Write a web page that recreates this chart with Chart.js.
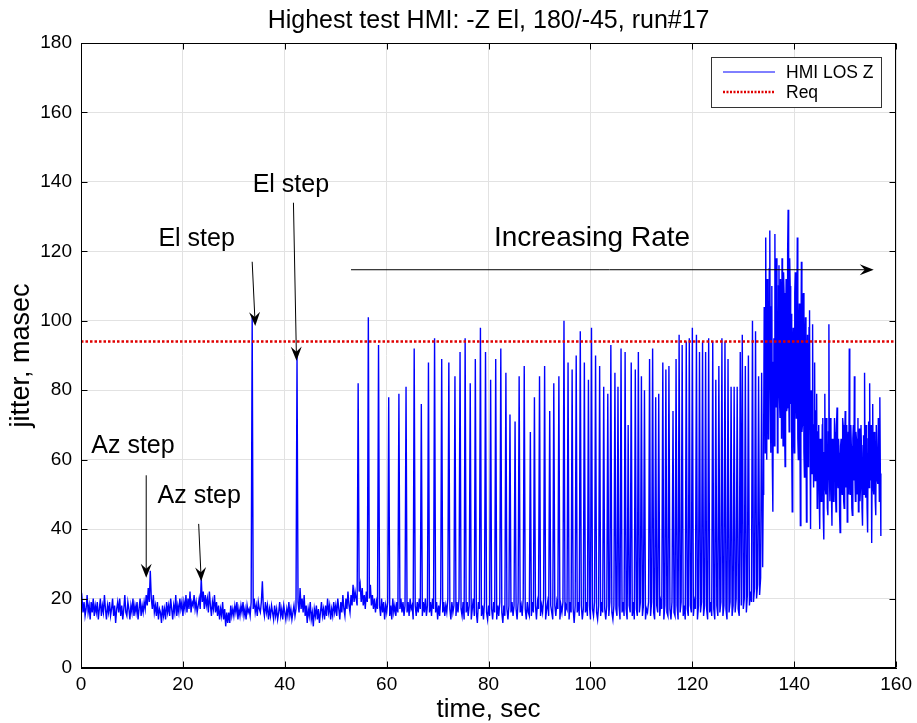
<!DOCTYPE html>
<html>
<head>
<meta charset="utf-8">
<title>Highest test HMI</title>
<script src="https://cdn.jsdelivr.net/npm/chart.js@4.4.1/dist/chart.umd.min.js"></script>
<style>
  html, body { margin: 0; padding: 0; background: #fff; }
  #wrap { width: 917px; height: 723px; }
</style>
</head>
<body>
<div id="wrap"><canvas id="jitterChart" width="917" height="723"></canvas></div>
<script>
// samples are 0.2 s apart up to the dense part
const sampleStep = 0.2;

// 0 - 29.8 s : quiet, two Az steps
const quietPart = [
  18,20,16,19,15, 17,21,16,18,14, 19,16,20,15,18, 16,19,14,17,20, 15,18,16,21,17,
  14,18,16,19,15, 17,20,15,18,13, 17,19,16,20,15, 18,14,17,21,16, 15,19,17,14,18,
  16,20,15,18,16, 19,14,17,20,15, 18,16,19,17,21, 18,23,19,28,20, 17,21,16,18,15,
  19,14,17,16,13, 18,15,17,14,19, 16,18,15,20,17, 14,18,16,21,15, 18,16,20,17,19,
  15,19,17,21,16, 20,17,22,16,19, 18,21,17,19,16, 18,20,17,26,19, 22,17,21,18,20,
  16,22,18,15,19, 17,21,16,19,15, 18,14,17,15,19, 14,17,12,16,13, 16,13,18,15,17
];

// 30 - 53.8 s : the two El steps
const stepPart = [
  15,18,16,19,14, 17,15,18,16,19, 15,17,14,18,16, 17,15,19,101,17, 20,16,18,15,19,
  17,16,19,25,17, 15,19,16,18,14, 17,15,18,16,14, 18,15,17,14,16, 19,15,17,14,18,
  16,14,17,15,19, 15,17,14,16,18, 15,17,90,19,16, 23,17,20,16,21, 15,18,13,17,15,
  19,14,16,12,17, 15,18,14,17,13, 16,19,15,17,14, 18,15,20,16,18, 14,17,15,19,16,
  18,15,20,17,14, 19,16,21,17,15, 20,17,22,18,16, 21,18,24,19,22
];

// 54 s on : increasing rate, first half
const ratePart1 = [
  20,18,82,22,24, 19,23,18,21,17, 22,19,101,20,24, 18,21,17,20,16, 19,17,93,18,15,
  20,16,19,14,18, 16,19,78,15,18, 14,20,16,18,15, 19,16,79,17,20, 16,19,15,18,81,
  16,19,15,20,17,18, 14,92,18,15,19, 16,20,17,76,15, 19,16,20,15,18, 88,16,19,15,20,
  17,95,16,19,14, 18,15,20,89,16, 19,15,18,16,20, 88,17,14,19,16, 18,84,15,19,16,
  20,91,17,15,19, 14,95,16,19,15, 18,82,14,17,20, 15,89,16,13,19, 17,98,15,18,14,
  19,91,16,14,18, 15,83,17,14,19, 16,89,14,18,15, 19,92,16,13,18, 15,85,17,14,18,
  73,16,19,15,18, 71,17,14,19,84, 16,18,15,20,87, 17,14,19,16,15,68, 15,19,16,78,18,
  14,19,17,84,15, 18,16,20,87,14, 17,19,15,74,18, 16,14,82,18,15, 19,17,84,14,18
];

// increasing rate, second half
const ratePart2 = [
  16,19,100,15,18, 17,88,14,19,16, 86,17,13,18,90, 16,19,15,97,18, 14,17,88,16,19,
  15,83,18,14,98, 17,15,19,90,16, 14,18,87,15,19, 16,81,17,14,18, 79,15,19,93,16,
  14,18,85,17,15, 81,18,14,92,16, 19,15,91,17,14, 70,18,16,88,15, 19,14,86,17,15,
  91,16,19,84,15, 18,80,14,17,16,19, 89,15,19,92,16, 14,78,18,16,79, 15,19,17,88,14,
  18,86,16,15,87, 17,14,19,74,16, 15,89,18,14,96, 16,19,93,15,18, 14,94,17,15,95,
  18,16,98,15,19, 17,96,14,18,91, 16,19,94,15,18, 91,17,14,95,16, 19,15,94,17,14,
  83,18,15,87,16, 19,95,15,18,94, 17,14,89,16,19, 81,15,18,81,16, 20,81,17,15,91,
  18,96,17,20,87, 16,21,90,18,22,19, 100,19,23,97,20, 24,84,21,26,85
];

// dense part from 133.8 s to the end (~157 s), 0.1 s apart
const denseStart = 133.8;
const denseStep = 0.1;
const densePart = [
  29,50, 70,104, 85,62, 124,88, 60,112, 98,66, 70,115, 126,80, 62,104, 110,58,
  45,88, 95,64, 125,92, 75,118, 105,62, 68,110, 116,78, 72,112, 100,66, 118,90,
  64,114, 108,70, 58,96, 112,74, 75,120, 132,84, 68,118, 110,76, 102,64, 45,92,
  98,70, 62,108, 114,80, 72,100, 124,66, 60,96, 105,74, 41,88, 117,68, 70,106,
  108,62, 55,92, 101,70, 42,84, 96,58, 66,98, 103,64, 40,80, 72,56, 99,62,
  52,70, 88,54, 60,74, 79,46, 48,68, 70,50, 40,66, 65,48, 52,70, 72,44,
  37,62, 79,52, 50,72, 66,46, 44,68, 99,56, 48,72, 70,50, 41,66, 64,48,
  55,72, 68,50, 45,70, 75,54, 52,66, 62,44, 39,64, 66,52, 50,72, 70,48,
  46,66, 74,52, 55,70, 42,62, 68,50, 92,58, 50,70, 64,46, 44,66, 70,54,
  84,56, 48,68, 66,50, 58,72, 45,62, 69,48, 52,70, 62,46, 41,64, 67,50,
  85,58, 49,70, 63,46, 39,66, 71,52, 82,56, 54,70, 36,60, 76,52, 50,68,
  66,48, 44,70, 70,54, 53,72, 61,48, 78,56, 38
];

const reqLevel = 94;
const xTicks = [0, 20, 40, 60, 80, 100, 120, 140, 160];
const yTicks = [0, 20, 40, 60, 80, 100, 120, 140, 160, 180];

// notes on the plot: text + arrow (sec, masec)
const notes = [
  { text: 'Az step', size: 25, tx: 10.2, ty: 62, from: [12.8, 55.5], to: [12.8, 26] },
  { text: 'Az step', size: 25, tx: 23.2, ty: 47.5, from: [23.1, 41.5], to: [23.6, 25] },
  { text: 'El step', size: 25, tx: 22.7, ty: 121.5, from: [33.6, 117], to: [34.2, 98.5] },
  { text: 'El step', size: 25, tx: 41.2, ty: 137, from: [41.7, 134], to: [42.3, 88.5] },
  { text: 'Increasing Rate', size: 28, tx: 100.3, ty: 121.5, from: [53, 114.7], to: [155.6, 114.7] }
];

const evenValues = quietPart.concat(stepPart, ratePart1, ratePart2);
const hmiPoints = evenValues.map((v, i) => ({ x: i * sampleStep, y: v }))
  .concat(densePart.map((v, j) => ({ x: denseStart + j * denseStep, y: v })));

const FONT = '"Liberation Sans", Arial, Helvetica, sans-serif';
Chart.defaults.font.family = FONT;
Chart.defaults.color = '#000';

function drawArrow(ctx, x1, y1, x2, y2) {
  const ang = Math.atan2(y2 - y1, x2 - x1);
  const len = 14, half = 5.5;
  ctx.beginPath();
  ctx.moveTo(x1, y1);
  ctx.lineTo(x2 - Math.cos(ang) * 6, y2 - Math.sin(ang) * 6);
  ctx.stroke();
  ctx.save();
  ctx.translate(x2, y2);
  ctx.rotate(ang);
  ctx.beginPath();
  ctx.moveTo(0, 0);
  ctx.lineTo(-len, -half);
  ctx.lineTo(-len + 5, 0);
  ctx.lineTo(-len, half);
  ctx.closePath();
  ctx.fill();
  ctx.restore();
}

const decorPlugin = {
  id: 'decor',
  afterDraw(chart) {
    const { ctx, chartArea: a, scales: { x, y } } = chart;
    ctx.save();

    // box + inward ticks
    ctx.strokeStyle = '#000';
    ctx.lineWidth = 1;
    const L = Math.round(a.left) + 0.5, R = Math.round(a.right) - 0.5;
    const T = Math.round(a.top) + 0.5, B = Math.round(a.bottom) - 0.5;
    ctx.strokeRect(L, T, R - L, B - T);
    ctx.beginPath();
    xTicks.forEach(v => {
      const px = Math.round(x.getPixelForValue(v)) + 0.5;
      ctx.moveTo(px, B); ctx.lineTo(px, B - 6);
      ctx.moveTo(px, T); ctx.lineTo(px, T + 6);
    });
    yTicks.forEach(v => {
      const py = Math.round(y.getPixelForValue(v)) + 0.5;
      ctx.moveTo(L, py); ctx.lineTo(L + 6, py);
      ctx.moveTo(R, py); ctx.lineTo(R - 6, py);
    });
    ctx.stroke();

    // title
    ctx.fillStyle = '#000';
    ctx.font = '25px ' + FONT;
    ctx.textAlign = 'center';
    ctx.textBaseline = 'alphabetic';
    ctx.fillText('Highest test HMI: -Z El, 180/-45, run#17', (a.left + a.right) / 2, 28);

    // notes and arrows
    ctx.strokeStyle = '#000';
    ctx.lineWidth = 1;
    notes.forEach(n => {
      ctx.font = n.size + 'px ' + FONT;
      ctx.fillText(n.text, x.getPixelForValue(n.tx), y.getPixelForValue(n.ty));
      drawArrow(ctx,
        x.getPixelForValue(n.from[0]), y.getPixelForValue(n.from[1]),
        x.getPixelForValue(n.to[0]), y.getPixelForValue(n.to[1]));
    });

    // legend box
    const lx = 711.5, ly = 57.5, lw = 170, lh = 50;
    ctx.fillStyle = '#fff';
    ctx.fillRect(lx, ly, lw, lh);
    ctx.strokeStyle = '#333';
    ctx.strokeRect(lx, ly, lw, lh);
    ctx.strokeStyle = '#0000ff';
    ctx.beginPath();
    ctx.moveTo(723, 72); ctx.lineTo(775, 72);
    ctx.stroke();
    ctx.strokeStyle = '#e00000';
    ctx.lineWidth = 2.5;
    ctx.setLineDash([2, 1.5]);
    ctx.beginPath();
    ctx.moveTo(723, 92); ctx.lineTo(775, 92);
    ctx.stroke();
    ctx.setLineDash([]);
    ctx.fillStyle = '#000';
    ctx.font = '17.5px ' + FONT;
    ctx.textAlign = 'left';
    ctx.fillText('HMI LOS Z', 786, 78);
    ctx.fillText('Req', 786, 98);

    ctx.restore();
  }
};

new Chart(document.getElementById('jitterChart'), {
  type: 'line',
  data: {
    datasets: [{
      label: 'HMI LOS Z',
      data: hmiPoints,
      borderColor: '#0000ff',
      borderWidth: 1.4,
      pointRadius: 0,
      tension: 0,
      order: 2
    }, {
      label: 'Req',
      data: [{ x: 0, y: reqLevel }, { x: 160, y: reqLevel }],
      borderColor: '#e00000',
      borderWidth: 2.5,
      borderDash: [2.5, 2],
      pointRadius: 0,
      order: 1
    }]
  },
  options: {
    responsive: false,
    animation: false,
    devicePixelRatio: 1,
    layout: { padding: { top: 43, right: 20, left: 0, bottom: 0 } },
    plugins: {
      legend: { display: false },
      title: { display: false },
      tooltip: { enabled: false }
    },
    scales: {
      x: {
        type: 'linear',
        min: 0,
        max: 160,
        afterFit: s => { s.height = 55; },
        afterBuildTicks: s => { s.ticks = xTicks.map(v => ({ value: v })); },
        ticks: { font: { size: 19 }, color: '#000', padding: 5 },
        grid: { color: '#e2e2e2', drawTicks: false },
        border: { color: '#000' },
        title: { display: true, text: 'time, sec', font: { size: 26, lineHeight: 1 }, color: '#000', padding: { top: 0, bottom: 0 } }
      },
      y: {
        min: 0,
        max: 180,
        afterFit: s => { s.width = 81; },
        afterBuildTicks: s => { s.ticks = yTicks.map(v => ({ value: v })); },
        ticks: { font: { size: 19 }, color: '#000', padding: 9 },
        grid: { color: '#e2e2e2', drawTicks: false },
        border: { color: '#000' },
        title: { display: true, text: 'jitter, masec', font: { size: 27, lineHeight: 1 }, color: '#000', padding: { top: 8, bottom: 8 } }
      }
    }
  },
  plugins: [decorPlugin]
});
</script>
</body>
</html>
